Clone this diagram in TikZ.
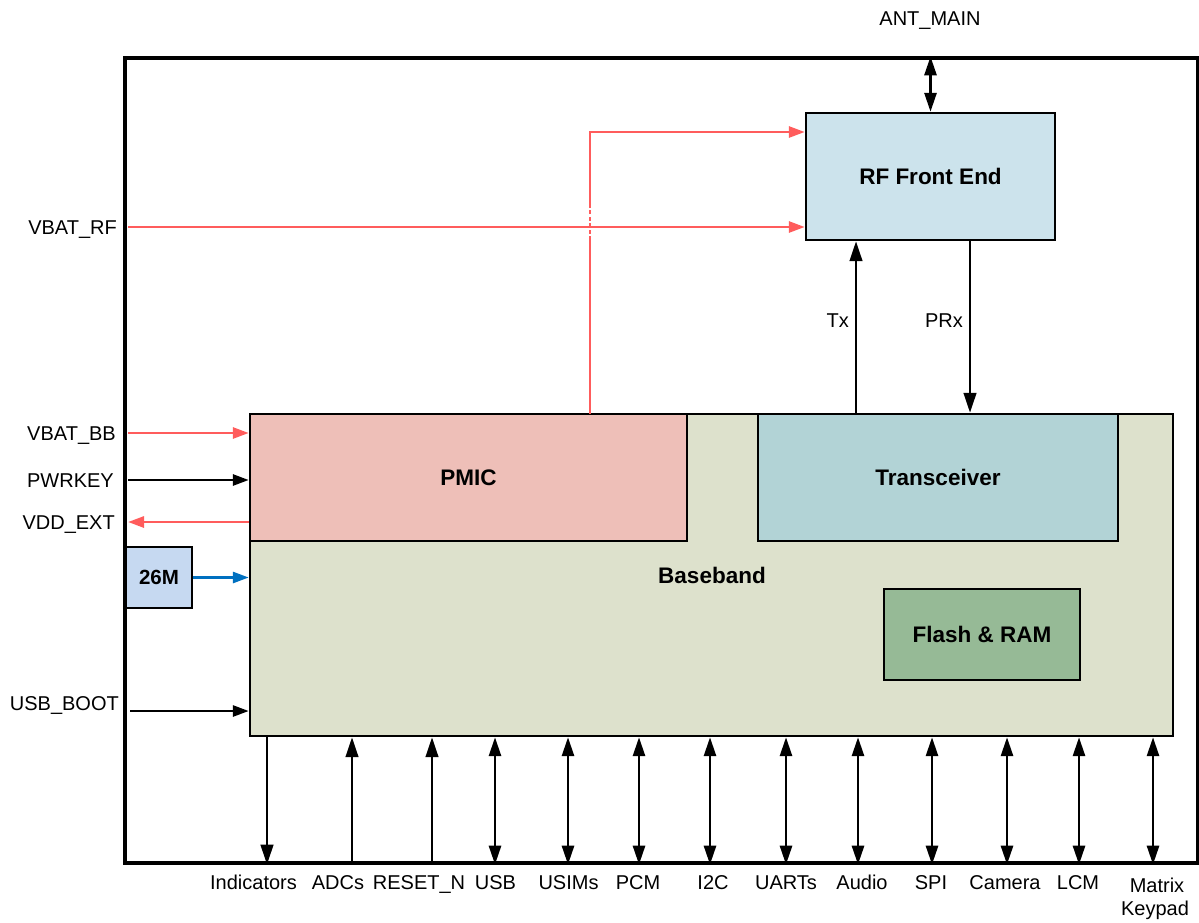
\documentclass[tikz,border=0pt]{standalone}
\usepackage{fontspec}
\setmainfont{Liberation Sans}
\usetikzlibrary{arrows.meta}
\definecolor{pwr}{RGB}{255,92,92}
\definecolor{clk}{RGB}{0,112,192}
\definecolor{rffill}{RGB}{204,227,236}
\definecolor{bbfill}{RGB}{221,225,204}
\definecolor{pmicfill}{RGB}{238,191,184}
\definecolor{trxfill}{RGB}{178,211,214}
\definecolor{flashfill}{RGB}{150,186,150}
\definecolor{xofill}{RGB}{198,217,241}
\begin{document}
\begin{tikzpicture}[x=1pt,y=-1pt,
  box/.style={draw=black, line width=2.4pt, inner sep=0pt, font=\fontsize{22.5}{26}\selectfont\bfseries},
  boldlbl/.style={inner sep=0pt, font=\fontsize{22.5}{26}\selectfont\bfseries},
  lbl/.style={font=\fontsize{20}{23}\selectfont, inner sep=0pt},
  tip/.style={-{Triangle[length=20pt,width=12.5pt]}},
  stip/.style={-{Triangle[length=16pt,width=11pt]}},
  dtip/.style={{Triangle[length=19pt,width=12pt]}-{Triangle[length=19pt,width=12pt]}},
  conn/.style={line width=2.8pt},
]
\useasboundingbox (0,0) rectangle (1199,922);
% frame
\node[draw=black, line width=3.2pt, minimum width=1073pt, minimum height=805pt, inner sep=0pt] (frame) at (661.5,460.5) {};
% boxes
\node[box, fill=bbfill, minimum width=923pt, minimum height=322pt] (bb) at (711.5,575) {};
\node[boldlbl] (bblabel) at (712,575) {Baseband};
\node[box, fill=pmicfill, minimum width=437pt, minimum height=127pt] (pmic) at (468.5,477.5) {PMIC};
\node[box, fill=trxfill, minimum width=360pt, minimum height=127pt] (trx) at (938,477.5) {Transceiver};
\node[box, fill=rffill, minimum width=249pt, minimum height=127pt] (rf) at (930.5,176.5) {RF Front End};
\node[box, fill=flashfill, minimum width=196pt, minimum height=91pt] (flash) at (982,634.5) {Flash \& RAM};
\node[box, fill=xofill, minimum width=66pt, minimum height=61pt, font=\fontsize{20.5}{24}\selectfont\bfseries] (xo) at (159,577.5) {26M};
% antenna
\node[lbl, anchor=base] (ant) at (930,25) {ANT\_MAIN};
\draw[conn, dtip] (frame.north -| rf.north) -- (rf.north);
% Tx / PRx
\coordinate (txx) at (856,0);
\coordinate (prxx) at (970,0);
\draw[conn, tip] (trx.north -| txx) -- (rf.south -| txx);
\draw[conn, tip] (rf.south -| prxx) -- (trx.north -| prxx);
\node[lbl, anchor=base east] (txl) at (849,327) {Tx};
\node[lbl, anchor=base east] (prxl) at (963,327) {PRx};
% VBAT_RF
\node[lbl, anchor=base east] (vbrf) at (117,234) {VBAT\_RF};
\coordinate (vbrfs) at (128,227);
\draw[conn, pwr, stip] (vbrfs) -- (vbrfs -| rf.west);
% PMIC -> RF
\coordinate (pr0) at (590,414);
\coordinate (pr1) at (590,240);
\coordinate (pr2) at (590,205);
\coordinate (pr3) at (590,132);
\draw[conn, pwr] (pr0) -- (pr1);
\draw[conn, pwr, dash pattern=on 4pt off 2.5pt] (pr1) -- (pr2);
\draw[conn, pwr, stip] (pr2) -- (pr3) -- (pr3 -| rf.west);
% left side signals
\node[lbl, anchor=base east] (vbb) at (116,440) {VBAT\_BB};
\coordinate (vbbs) at (128,433);
\draw[conn, pwr, stip] (vbbs) -- (vbbs -| pmic.west);
\node[lbl, anchor=base east] (pwk) at (114,487) {PWRKEY};
\coordinate (pwks) at (128,480);
\draw[conn, stip] (pwks) -- (pwks -| pmic.west);
\node[lbl, anchor=base east] (vdd) at (115,529) {VDD\_EXT};
\coordinate (vdds) at (128,522);
\draw[conn, pwr, stip] (vdds -| pmic.west) -- (vdds);
\draw[conn, clk, stip] (xo.east) -- (xo.east -| bb.west);
\node[lbl, anchor=base east] (ubt) at (119,710) {USB\_BOOT};
\coordinate (ubts) at (130,711);
\draw[conn, stip] (ubts) -- (ubts -| bb.west);
% bottom interfaces
\foreach \ax/\lx/\txt/\nm in {
  267/253.5/Indicators/ind,
  352/338/ADCs/adc,
  432/419/RESET\_N/rst,
  495/495.5/USB/usb,
  568/568.5/USIMs/sim,
  639/638/PCM/pcm,
  710/713/I2C/iic,
  786/786/UARTs/uart,
  858/862/Audio/aud,
  932/931/SPI/spi,
  1007/1005/Camera/cam,
  1079/1078/LCM/lcm}{
  \node[lbl, anchor=base] (l\nm) at (\lx,889) {\txt};
  \coordinate (c\nm) at (\ax,800);
}
\foreach \nm in {usb,sim,pcm,iic,uart,aud,spi,cam,lcm}
  \draw[conn, dtip] (bb.south -| c\nm) -- (frame.south -| c\nm);
\draw[conn, tip] (bb.south -| cind) -- (frame.south -| cind);
\draw[conn, tip] (frame.south -| cadc) -- (bb.south -| cadc);
\draw[conn, tip] (frame.south -| crst) -- (bb.south -| crst);
\node[lbl, anchor=base] (lmk1) at (1157,892) {Matrix};
\node[lbl, anchor=base] (lmk2) at (1155,915) {Keypad};
\coordinate (cmk) at (1153,800);
\draw[conn, dtip] (bb.south -| cmk) -- (frame.south -| cmk);
\end{tikzpicture}
\end{document}
